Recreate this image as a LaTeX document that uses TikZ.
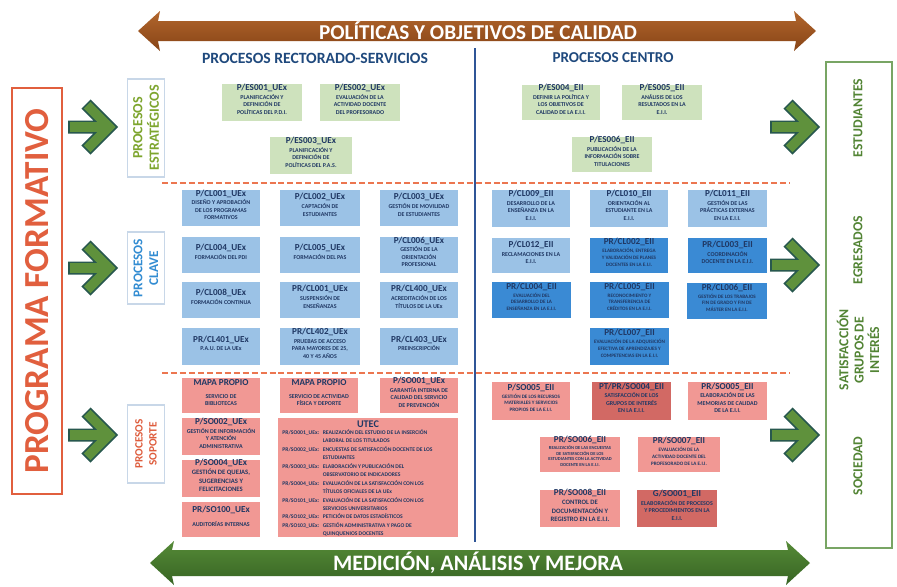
\documentclass[tikz,border=0pt]{standalone}
\usepackage{fontspec}
\setmainfont{Carlito}
\usepackage{graphicx}
\usetikzlibrary{fit}
\definecolor{navy}{RGB}{32,56,100}
\definecolor{hdrblue}{RGB}{31,73,125}
\definecolor{gstrat}{RGB}{206,226,189}
\definecolor{lblue}{RGB}{155,194,230}
\definecolor{dblue}{RGB}{58,138,212}
\definecolor{lred}{RGB}{241,152,148}
\definecolor{dred}{RGB}{210,105,100}
\definecolor{progred}{RGB}{225,95,62}
\definecolor{dashred}{RGB}{236,118,80}
\definecolor{vblue}{RGB}{47,85,151}
\definecolor{garrow}{RGB}{95,145,60}
\definecolor{gdark}{RGB}{40,88,78}
\definecolor{gtext}{RGB}{82,132,52}
\definecolor{gbord}{RGB}{120,165,100}
\definecolor{brownA}{RGB}{178,102,45}
\definecolor{brownB}{RGB}{135,68,22}
\definecolor{greenA}{RGB}{85,138,55}
\definecolor{greenB}{RGB}{55,100,35}
\definecolor{stratcol}{RGB}{125,165,45}
\definecolor{clavecol}{RGB}{50,140,210}
\definecolor{sopcol}{RGB}{222,92,60}
\definecolor{lbord}{RGB}{200,215,232}
\newcommand\sza{\fontsize{3.4}{4.3}\selectfont}
\newcommand\szb{\fontsize{2.9}{3.8}\selectfont}
\newcommand\szc{\fontsize{3.8}{4.7}\selectfont}
\newcommand\ttlfont{\fontsize{5.2}{5.2}\selectfont}
\newcommand\pbox[9]{\node[pbx, fill=#6, font=\bfseries#7, fit={(#2,#3) (#4,#5)}] (#1) {{\ttlfont #8}\\[0.6pt]#9};}
\newcommand\gchev[2]{%
 \draw[garrowout] (#1,#2) -- (#1+38,#2) (#1+18,#2-23) -- (#1+41,#2) -- (#1+18,#2+23);
 \draw[garrowin] (#1,#2) -- (#1+38,#2);
 \draw[garrowin, shorten >=1pt] (#1+18,#2-23) -- (#1+41,#2) -- (#1+18,#2+23);}
\begin{document}
\begin{tikzpicture}[x=0.02cm,y=-0.02cm,
  pbx/.style={inner sep=0pt, align=center, text=navy},
  garrowout/.style={draw=gdark, line width=7.4pt, line join=miter},
  garrowin/.style={draw=garrow, line width=5.4pt, line join=miter, shorten <=1pt},
  lab/.style={draw=lbord, line width=0.6pt, fill=white, rotate=90, align=center, inner sep=1pt},
  rtext/.style={rotate=90, text=gtext, font=\bfseries\fontsize{7.8}{8.8}\selectfont, align=center, inner sep=0pt},
  hdr/.style={text=hdrblue, font=\bfseries, inner sep=0pt},
  sepline/.style={draw=dashred, line width=1.1pt, dash pattern=on 3.4pt off 1.7pt},
]
\useasboundingbox[fill=white] (0,0) rectangle (897,586);

% big arrows
\shade[top color=brownA, bottom color=brownB] (138,31) -- (160,11) -- (158,21) -- (796,21) -- (794,11) -- (816,31) -- (794,51) -- (796,41) -- (158,41) -- (160,51) -- cycle;
\node[text=white, font=\bfseries, inner sep=0pt] (pol) at (478,31) {\resizebox{6.36cm}{!}{POLÍTICAS Y OBJETIVOS DE CALIDAD}};
\shade[top color=greenA, bottom color=greenB] (150,563) -- (174,541) -- (172,550) -- (788,550) -- (786,541) -- (810,563) -- (786,585) -- (788,576) -- (172,576) -- (174,585) -- cycle;
\node[text=white, font=\bfseries, inner sep=0pt] (med) at (478,563) {\resizebox{5.8cm}{!}{MEDICIÓN, ANÁLISIS Y MEJORA}};

% headers
\node[hdr] (hrs) at (315,58) {\resizebox{4.52cm}{!}{PROCESOS RECTORADO-SERVICIOS}};
\node[hdr] (hc) at (613,58) {\resizebox{2.42cm}{!}{PROCESOS CENTRO}};

% separators
\coordinate (vt) at (475,48); \coordinate (vb) at (475,542);
\draw[vblue, line width=1pt] (vt) -- (vb);
\coordinate (d1a) at (162,183); \coordinate (d1b) at (790,183);
\coordinate (d2a) at (162,373); \coordinate (d2b) at (790,373);
\draw[sepline] (d1a) -- (d1b);
\draw[sepline] (d2a) -- (d2b);

% programa formativo
\node[fit={(12,88) (62,494)}, draw=progred, line width=1pt, inner sep=0pt] (prog) {};
\node[rotate=90, text=progred, font=\bfseries, inner sep=0pt] (progt) at (prog.center) {\resizebox{7.3cm}{!}{PROGRAMA FORMATIVO}};

% left labels
\node[lab, minimum width=1.96cm, minimum height=0.74cm, text=stratcol, font=\bfseries\fontsize{8}{9.4}\selectfont] (lstrat) at (146,128) {PROCESOS\\ESTRATÉGICOS};
\node[lab, minimum width=1.44cm, minimum height=0.74cm, text=clavecol, font=\bfseries\fontsize{7.6}{9}\selectfont] (lclave) at (146,268) {PROCESOS\\CLAVE};
\node[lab, minimum width=1.56cm, minimum height=0.74cm, text=sopcol, font=\bfseries\fontsize{6.4}{8}\selectfont] (lsop) at (146,444) {PROCESOS\\SOPORTE};

% right box
\node[fit={(826,62) (892,548)}, draw=gbord, line width=0.9pt, inner sep=0pt] (rbox) {};
\node[rtext] (est) at (858,118) {ESTUDIANTES};
\node[rtext] (egr) at (858,250) {EGRESADOS};
\node[rtext] (sat) at (858,350) {SATISFACCIÓN\\GRUPOS DE\\INTERÉS};
\node[rtext] (soc) at (858,466) {SOCIEDAD};

% green chevrons
\gchev{68}{127}
\gchev{68}{268}
\gchev{68}{435}
\gchev{770}{127}
\gchev{770}{265}
\gchev{770}{435}

% strategic
\pbox{es1}{222}{84}{302}{121}{gstrat}{\sza}{P/ES001\_UEx}{PLANIFICACIÓN Y\\DEFINICIÓN DE\\POLÍTICAS DEL P.D.I.}
\pbox{es2}{320}{84}{400}{121}{gstrat}{\sza}{P/ES002\_UEx}{EVALUACIÓN DE LA\\ACTIVIDAD DOCENTE\\DEL PROFESORADO}
\pbox{es3}{270}{137}{352}{174}{gstrat}{\sza}{P/ES003\_UEx}{PLANIFICACIÓN Y\\DEFINICIÓN DE\\POLÍTICAS DEL P.A.S.}
\pbox{es4}{522}{85}{600}{120}{gstrat}{\sza}{P/ES004\_EII}{DEFINIR LA POLÍTICA Y\\LOS OBJETIVOS DE\\CALIDAD DE LA E.I.I.}
\pbox{es5}{622}{85}{702}{120}{gstrat}{\sza}{P/ES005\_EII}{ANÁLISIS DE LOS\\RESULTADOS EN LA\\E.I.I.}
\pbox{es6}{572}{137}{652}{172}{gstrat}{\sza}{P/ES006\_EII}{PUBLICACIÓN DE LA\\INFORMACIÓN SOBRE\\TITULACIONES}

% clave rectorado
\pbox{cl1}{182}{190}{260}{226}{lblue}{\sza}{P/CL001\_UEx}{DISEÑO Y APROBACIÓN\\DE LOS PROGRAMAS\\FORMATIVOS}
\pbox{cl2}{280}{190}{360}{226}{lblue}{\sza}{P/CL002\_UEx}{CAPTACIÓN DE\\ESTUDIANTES}
\pbox{cl3}{380}{190}{458}{226}{lblue}{\sza}{P/CL003\_UEx}{GESTIÓN DE MOVILIDAD\\DE ESTUDIANTES}
\pbox{cl4}{182}{237}{260}{273}{lblue}{\sza}{P/CL004\_UEx}{FORMACIÓN DEL PDI}
\pbox{cl5}{280}{237}{360}{273}{lblue}{\sza}{P/CL005\_UEx}{FORMACIÓN DEL PAS}
\pbox{cl6}{380}{237}{458}{273}{lblue}{\sza}{P/CL006\_UEx}{GESTIÓN DE LA\\ORIENTACIÓN\\PROFESIONAL}
\pbox{cl8}{182}{282}{260}{318}{lblue}{\sza}{P/CL008\_UEx}{FORMACIÓN CONTINUA}
\pbox{pcl1}{280}{282}{360}{318}{lblue}{\sza}{PR/CL001\_UEx}{SUSPENSIÓN DE\\ENSEÑANZAS}
\pbox{pcl400}{380}{282}{458}{318}{lblue}{\sza}{PR/CL400\_UEx}{ACREDITACIÓN DE LOS\\TÍTULOS DE LA UEx}
\pbox{pcl401}{182}{328}{260}{365}{lblue}{\sza}{PR/CL401\_UEx}{P.A.U. DE LA UEx}
\pbox{pcl402}{280}{328}{360}{365}{lblue}{\sza}{PR/CL402\_UEx}{PRUEBAS DE ACCESO\\PARA MAYORES DE 25,\\40 Y 45 AÑOS}
\pbox{pcl403}{380}{328}{458}{365}{lblue}{\sza}{PR/CL403\_UEx}{PREINSCRIPCIÓN}

% clave centro
\pbox{cl9}{492}{190}{570}{227}{lblue}{\sza}{P/CL009\_EII}{DESARROLLO DE LA\\ENSEÑANZA EN LA\\E.I.I.}
\pbox{cl10}{590}{190}{668}{227}{lblue}{\sza}{P/CL010\_EII}{ORIENTACIÓN AL\\ESTUDIANTE EN LA\\E.I.I.}
\pbox{cl11}{688}{190}{767}{227}{lblue}{\sza}{P/CL011\_EII}{GESTIÓN DE LAS\\PRÁCTICAS EXTERNAS\\EN LA E.I.I.}
\pbox{cl12}{492}{238}{570}{273}{lblue}{\sza}{P/CL012\_EII}{RECLAMACIONES EN LA\\E.I.I.}
\pbox{pcl2e}{590}{238}{668}{273}{dblue}{\szb}{PR/CL002\_EII}{ELABORACIÓN, ENTREGA\\Y VALIDACIÓN DE PLANES\\DOCENTES EN LA E.I.I.}
\pbox{pcl3e}{688}{238}{767}{273}{dblue}{\sza}{PR/CL003\_EII}{COORDINACIÓN\\DOCENTE EN LA E.I.I.}
\pbox{pcl4e}{492}{282}{571}{318}{dblue}{\szb}{PR/CL004\_EII}{EVALUACIÓN DEL\\DESARROLLO DE LA\\ENSEÑANZA EN LA E.I.I.}
\pbox{pcl5e}{590}{282}{669}{318}{dblue}{\szb}{PR/CL005\_EII}{RECONOCIMIENTO Y\\TRANSFERENCIA DE\\CRÉDITOS EN LA E.I.I.}
\pbox{pcl6e}{687}{283}{767}{319}{dblue}{\szb}{PR/CL006\_EII}{GESTIÓN DE LOS TRABAJOS\\FIN DE GRADO Y FIN DE\\MÁSTER EN LA E.I.I.}
\pbox{pcl7e}{590}{328}{669}{365}{dblue}{\szb}{PR/CL007\_EII}{EVALUACIÓN DE LA ADQUISICIÓN\\EFECTIVA DE APRENDIZAJES Y\\COMPETENCIAS EN LA E.I.I.}

% soporte rectorado
\pbox{mp1}{182}{378}{260}{413}{lred}{\sza}{MAPA PROPIO}{\rule{0pt}{6pt}SERVICIO DE\\BIBLIOTECAS}
\pbox{mp2}{280}{378}{358}{413}{lred}{\sza}{MAPA PROPIO}{\rule{0pt}{6pt}SERVICIO DE ACTIVIDAD\\FÍSICA Y DEPORTE}
\pbox{so1}{380}{378}{458}{413}{lred}{\sza}{P/SO001\_UEx}{GARANTÍA INTERNA DE\\CALIDAD DEL SERVICIO\\DE PREVENCIÓN}
\pbox{so2}{182}{418}{260}{455}{lred}{\sza}{P/SO002\_UEx}{GESTIÓN DE INFORMACIÓN\\Y ATENCIÓN\\ADMINISTRATIVA}
\pbox{so4}{182}{460}{260}{497}{lred}{\szc}{P/SO004\_UEx}{GESTIÓN DE QUEJAS,\\SUGERENCIAS Y\\FELICITACIONES}
\pbox{so100}{182}{502}{260}{537}{lred}{\sza}{PR/SO100\_UEx}{\rule{0pt}{6pt}AUDITORÍAS INTERNAS}
\node[fit={(278,418) (458,537)}, fill=lred, inner sep=0pt] (utec) {};
\node[text=navy, font=\bfseries\fontsize{5.8}{6}\selectfont, inner sep=0pt] (utect) at (368,424) {UTEC};
\node[anchor=north west, inner sep=0pt, text=navy, font=\bfseries\fontsize{3.2}{4.82}\selectfont] (utecl) at (282,428) {\begin{tabular}{@{}l@{\hspace{2pt}}l@{}}
PR/SO001\_UEx: & REALIZACIÓN DEL ESTUDIO DE LA INSERCIÓN\\
 & LABORAL DE LOS TITULADOS\\
PR/SO002\_UEx: & ENCUESTAS DE SATISFACCIÓN DOCENTE DE LOS\\
 & ESTUDIANTES\\
PR/SO003\_UEx: & ELABORACIÓN Y PUBLICACIÓN DEL\\
 & OBSERVATORIO DE INDICADORES\\
PR/SO004\_UEx: & EVALUACIÓN DE LA SATISFACCIÓN CON LOS\\
 & TÍTULOS OFICIALES DE LA UEx\\
PR/SO101\_UEx: & EVALUACIÓN DE LA SATISFACCIÓN CON LOS\\
 & SERVICIOS UNIVERSITARIOS\\
PR/SO102\_UEx: & PETICIÓN DE DATOS ESTADÍSTICOS\\
PR/SO103\_UEx: & GESTIÓN ADMINISTRATIVA Y PAGO DE\\
 & QUINQUENIOS DOCENTES
\end{tabular}};

% soporte centro
\pbox{so5e}{492}{382}{570}{420}{lred}{\szb}{P/SO005\_EII}{GESTIÓN DE LOS RECURSOS\\MATERIALES Y SERVICIOS\\PROPIOS DE LA E.I.I.}
\pbox{so4e}{592}{382}{671}{420}{dred}{\sza}{PT/PR/SO004\_EII}{SATISFACCIÓN DE LOS\\GRUPOS DE INTERÉS\\EN LA E.I.I.}
\pbox{pso5e}{688}{382}{767}{420}{lred}{\sza}{PR/SO005\_EII}{ELABORACIÓN DE LAS\\MEMORIAS DE CALIDAD\\DE LA E.I.I.}
\pbox{so6e}{540}{437}{620}{472}{lred}{\fontsize{2.6}{3.3}\selectfont}{PR/SO006\_EII}{REALIZACIÓN DE LAS ENCUESTAS\\DE SATISFACCIÓN DE LOS\\ESTUDIANTES CON LA ACTIVIDAD\\DOCENTE EN LA E.I.I.}
\pbox{so7e}{638}{437}{720}{472}{lred}{\szb}{PR/SO007\_EII}{EVALUACIÓN DE LA\\ACTIVIDAD DOCENTE DEL\\PROFESORADO DE LA E.I.I.}
\pbox{so8e}{540}{490}{620}{527}{lred}{\szc}{PR/SO008\_EII}{CONTROL DE\\DOCUMENTACIÓN Y\\REGISTRO EN LA E.I.I.}
\pbox{g1e}{637}{490}{717}{527}{dred}{\sza}{G/SO001\_EII}{ELABORACIÓN DE PROCESOS\\Y PROCEDIMIENTOS EN LA\\E.I.I.}
\end{tikzpicture}
\end{document}
